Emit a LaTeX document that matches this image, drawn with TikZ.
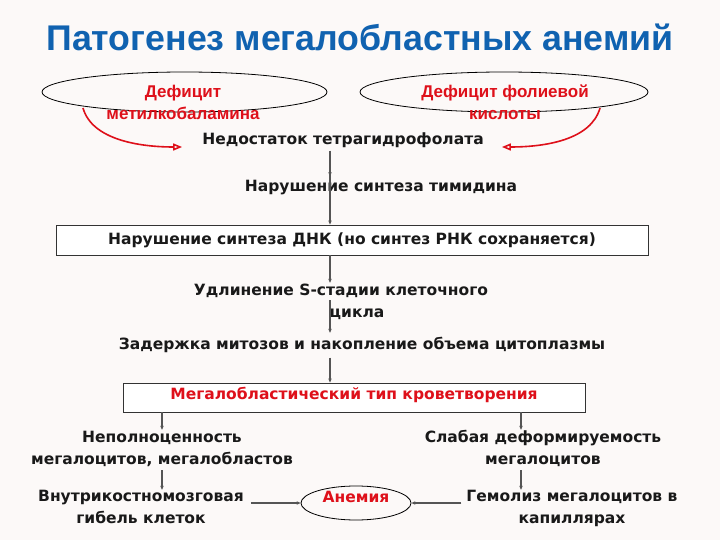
\documentclass[tikz,border=0pt]{standalone}
\usepackage{fontspec}
\setmainfont{DejaVu Sans}
\newfontfamily\arialfont{Liberation Sans}
\usetikzlibrary{arrows.meta,shapes.geometric}
\definecolor{myred}{RGB}{222,16,26}
\definecolor{myblue}{RGB}{16,98,176}
\definecolor{linegrey}{RGB}{85,85,85}
\definecolor{bgcol}{RGB}{252,249,248}
\tikzset{
  txt/.style={font=\bfseries\fontsize{15.5}{22}\selectfont, inner sep=0pt, align=center, text=black!90},
  redtxt/.style={txt, text=myred},
  ovaltxt/.style={font=\arialfont\bfseries\fontsize{17}{22}\selectfont, inner sep=0pt, align=center, text=myred},
  framebox/.style={draw=black!80, line width=0.9pt, fill=white, inner sep=0pt},
  oval/.style={ellipse, draw=black, line width=0.8pt, inner sep=0pt},
  conn/.style={draw=linegrey, line width=1.3pt, -{Stealth[length=4pt,width=3.5pt]}},
  redconn/.style={draw=myred, line width=1.6pt, -{Triangle[open,length=9pt,width=7pt]}},
}
\begin{document}
\begin{tikzpicture}[x=1pt,y=-1pt]
\path[fill=bgcol] (0,0) rectangle (720,540);
\useasboundingbox (0,0) rectangle (720,540);

\node[font=\arialfont\bfseries\fontsize{35.7}{40}\selectfont, text=myblue, inner sep=0pt] (title) at (360,37) {Патогенез мегалобластных анемий};

% top ellipses
\node[oval, minimum width=285pt, minimum height=40pt] (eL) at (184.5,92) {};
\node[oval, minimum width=288pt, minimum height=40pt] (eR) at (504,92) {};
\node[ovaltxt] (tL) at (183,104.5) {\strut Дефицит\\\strut метилкобаламина};
\node[ovaltxt] (tR) at (505,104.5) {\strut Дефицит фолиевой\\\strut кислоты};

\coordinate (xm) at (330,0);
\coordinate (stL) at (83,108);
\coordinate (stR) at (600,108);
\coordinate (xl) at (162,0);
\coordinate (xr) at (521,0);

\node[txt] (tet) at (343,140.5) {\strut Недостаток тетрагидрофолата};
\node[txt] (thy) at (381,187.5) {\strut Нарушение синтеза тимидина};
\node[framebox, minimum width=592pt, minimum height=30pt] (b1) at (352,240) {};
\node[txt] (b1t) at (352,240.5) {\strut Нарушение синтеза ДНК (но синтез РНК сохраняется)};
\node[txt] (udl) at (341,291.5) {\strut Удлинение S-стадии клеточного};
\node[txt] (cyc) at (357,313.5) {\strut цикла};
\node[txt] (zad) at (362,345.5) {\strut Задержка митозов и накопление объема цитоплазмы};
\node[framebox, minimum width=462pt, minimum height=29pt] (b2) at (354,397.5) {};
\node[redtxt] (b2t) at (354,395.5) {\strut Мегалобластический тип кроветворения};

\node[txt] (nep) at (162,449.5) {\strut Неполноценность\\\strut мегалоцитов, мегалобластов};
\node[txt] (sla) at (543,449.5) {\strut Слабая деформируемость\\\strut мегалоцитов};
\node[txt] (vnu) at (141,508.5) {\strut Внутрикостномозговая\\\strut гибель клеток};
\node[txt] (gem) at (572,508.5) {\strut Гемолиз мегалоцитов в\\\strut капиллярах};
\node[oval, minimum width=110pt, minimum height=34pt] (an) at (356,503) {};
\node[redtxt] (ant) at (356,498.5) {\strut Анемия};

% red curved arrows
\draw[redconn] (stL) .. controls (92,140) and (140,147) .. ([xshift=-20pt]tet.west |- 0,147);
\draw[redconn] (stR) .. controls (591,140) and (545,147) .. ([xshift=18pt]tet.east |- 0,147);

% vertical connectors
\draw[conn] ([yshift=1pt]tet.south -| xm) -- (thy.north -| xm);
\draw[conn] ([yshift=3pt]thy.north -| xm) -- (b1.north -| xm);
\draw[conn] (b1.south -| xm) -- ([yshift=-2.5pt]udl.north -| xm);
\draw[conn] ([yshift=2.5pt]udl.south -| xm) -- ([yshift=1.5pt]zad.north -| xm);
\draw[conn] ([yshift=-1pt]zad.south -| xm) -- (b2.north -| xm);
\draw[conn] (b2.south -| xl) -- ([yshift=-2.5pt]nep.north -| xl);
\draw[conn] (b2.south -| xr) -- ([yshift=-2.5pt]sla.north -| xr);
\draw[conn] ([yshift=1.5pt]nep.south -| xl) -- ([yshift=-3.5pt]vnu.north -| xl);
\draw[conn] ([yshift=1.5pt]sla.south -| xr) -- ([yshift=-3.5pt]gem.north -| xr);
\draw[conn] ([xshift=7pt]vnu.east |- an.west) -- (an.west);
\draw[conn] ([xshift=-5pt]gem.west |- an.east) -- (an.east);

\end{tikzpicture}
\end{document}
